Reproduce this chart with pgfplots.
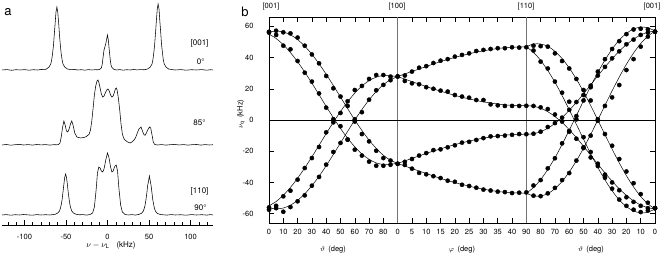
\documentclass[border=0pt]{standalone}
\usepackage{fontspec}
\setmainfont{TeX Gyre Heros}
\usepackage{pgfplots}
\usepackage{pgfplotstable}
\pgfplotsset{compat=1.18}

\pgfplotstableread{
x y
-127 186.0
-121 186.4
-115.5 185.7
-110 186.3
-105 186.0
-100 186.4
-94.5 185.8
-89 186.3
-84 186.0
-80 186.5
-75.5 186.4
-73.5 187
-70.4 189
-68.3 192
-67.2 196
-66.2 202
-65.1 210
-64.1 221
-63 233
-62 244
-60.9 249
-59.9 244
-58.8 233
-57.8 221
-56.7 210
-55.7 202
-54.6 196
-53.6 192
-51.5 189
-48.3 187
-44 186.3
-40 186.6
-35.7 186.0
-31.5 186.3
-27.3 185.8
-23 186.4
-19 186.0
-14.7 186.3
-11.5 186.2
-9.5 186.6
-7.4 188
-6.3 192
-5.3 199
-4.2 206
-3.2 209
-2.1 212
-1 217
0 221
1 216
2.1 206
3.2 197
4.2 191
5.3 188.5
7.4 186.8
10.5 186.0
14.7 186.4
19 185.8
23 186.3
27.3 186.0
31.5 186.5
35.7 186.1
40 186.4
44 186.2
48.3 187
51.5 189
53.6 192
54.6 196
55.7 203
56.7 211
57.8 223
58.8 235
59.9 247
60.9 252
62 247
63 235
64.1 223
65.1 211
66.2 203
67.2 196
68.3 192
70.4 189
73.5 187
77.7 186.4
82 186.0
88 186.4
94.5 185.8
101 186.3
107 186.0
113.5 186.4
119.5 185.8
124 186.3
127 186.0
}\spectop

\pgfplotstableread{
x y
-127 111.0
-122 111.5
-116.5 110.8
-111 111.3
-106 111.6
-101 111.0
-95.5 111.4
-90.3 110.9
-85 111.5
-80 111.1
-74.5 111.4
-69.3 110.9
-65 111.3
-61 111.2
-58.8 111.6
-57.2 113
-55.7 119
-54 129
-52.5 135
-51 131
-49.4 125
-47.8 124
-46.2 127
-44.6 132
-43 135
-41.5 131
-39.4 123
-36.8 119
-32.5 118
-28.4 118.5
-25.2 119.5
-22 122
-20.5 126
-18.9 135
-17.3 148
-15.8 161
-14.2 170
-12.6 175
-11.5 176
-10.5 174
-8.9 168
-7.4 162
-5.8 159
-4.2 160
-2.6 163
-1 166
0.5 167
2.1 165
3.7 161
5.3 159
6.8 160
8.4 164
9.5 167
10.5 168
11.5 166
13.1 158
14.7 146
16.3 132
17.9 122
19.4 118
21 116
24.2 114
27.3 113
29.4 114
31.5 115.5
33.6 118
35.7 122.5
37.8 127
40.4 129
42.5 124
44.1 121
45.7 121
47.8 125
50.4 129
52 128
53.6 121
55.1 114
56.7 111.6
60 111.0
65 111.4
70.4 110.9
75.6 111.3
81 111.6
86 111.0
91.4 111.4
96.6 110.9
102 111.3
107 111.5
112.4 110.9
117.6 111.4
122.8 111.0
127 111.3
}\specmid

\pgfplotstableread{
x y
-127 41.0
-122 41.4
-116.5 40.8
-111 41.3
-106 41.0
-101 41.5
-95.5 41.1
-90.3 40.8
-85 41.4
-80 41.0
-74.5 41.3
-69.3 41.0
-65 41.5
-63 41.7
-59.9 43
-57.8 44.9
-56.7 47.6
-55.7 51.3
-54.6 56.6
-53.6 63.8
-52.5 71.8
-51.5 78.7
-50.4 82
-49.4 78.7
-48.3 71.8
-47.3 63.8
-46.2 56.6
-45.2 51.3
-44.1 47.6
-43 45
-41 43
-37.8 41.7
-33.6 41.2
-29.4 41.4
-25.2 40.9
-21 41.5
-17.9 43
-15.8 49
-13.7 66
-12.1 83
-10.5 89
-8.9 88
-7.4 85
-5.8 84
-4.2 87
-2.1 96
0 103
1.6 99
3.7 89
5.3 84
6.8 85
8.9 90
10.5 91
12.1 85
13.7 68
15.8 51
17.9 44
21 41.5
25.2 41.0
29.4 41.4
33.6 40.9
37.8 41.6
41 42.7
43 44.7
44.1 47.2
45.2 50.8
46.2 55.8
47.3 62.6
48.3 70.3
49.4 74.9
50.4 80
51.5 74.9
52.5 70.3
53.6 62.6
54.6 55.8
55.7 50.8
56.7 47.2
57.8 44.7
59.9 42.7
63 41.6
67.2 41.2
71.4 40.9
76.7 41.4
82 41.0
88 41.3
94.5 40.8
101 41.4
107 41.0
113.4 41.3
119.7 40.9
124 41.4
127 41.0
}\specbot

\pgfplotstableread{
x A B nA nB
0 56.3 55.0 -56.3 -55.0
0.5 57.0 52.2 -57.0 -52.2
1 56.4 48.2 -56.4 -48.2
1.5 54.6 43.2 -54.6 -43.2
2 51.5 37.3 -51.5 -37.3
2.5 47.3 30.7 -47.3 -30.7
3 42.1 23.6 -42.1 -23.6
3.5 36.0 16.2 -36.0 -16.2
4 29.3 8.7 -29.3 -8.7
4.5 22.1 1.5 -22.1 -1.5
5 14.7 -5.4 -14.7 5.4
5.5 7.3 -11.7 -7.3 11.7
6 0.0 -17.2 0.0 17.2
6.5 -6.7 -21.8 6.7 21.8
7 -12.9 -25.2 12.9 25.2
7.5 -18.2 -27.5 18.2 27.5
8 -22.6 -28.5 22.6 28.5
8.5 -25.8 -28.3 25.8 28.3
9 -27.8 -27.8 27.8 27.8
}\soneline

\pgfplotstableread{
x A B nA nB
0 56.5 56.0 -57.5 -56.0
0.5 57.2 54.5 -56.5 -55.0
1 56.2 47.6 -58.8 -48.9
1.5 55.5 45.3 -55.8 -45.3
2 52.8 37.8 -52.1 -38.2
2.5 47.6 30.3 -48.3 -30.8
3 42.0 24.6 -42.1 -24.4
3.5 36.3 17.0 -36.5 -17.3
4 28.2 7.9 -28.6 -7.9
4.5 20.3 0.5 -20.5 -1.5
5 15.0 -4.0 -14.7 4.5
5.5 9.0 -12.5 -12.6 12.0
6 0.5 -19.0 -1.0 19.2
6.5 -9.0 -22.8 5.0 21.8
7 -13.7 -26.7 13.0 26.3
7.5 -19.7 -29.3 19.0 28.8
8 -24.4 -29.3 22.5 28.8
8.5 -26.0 -28.7 25.5 27.8
9 -28.0 -28.1 27.8 28.0
}\sonedots

\pgfplotstableread{
x R F nR nF
9 27.8 27.8 -27.8 -27.8
9.5 29.5 26.2 -29.5 -26.2
10 31.1 24.6 -31.1 -24.6
10.5 32.7 23.0 -32.7 -23.0
11 34.3 21.4 -34.3 -21.4
11.5 35.9 19.9 -35.9 -19.9
12 37.4 18.5 -37.4 -18.5
12.5 38.8 17.1 -38.8 -17.1
13 40.1 15.8 -40.1 -15.8
13.5 41.3 14.6 -41.3 -14.6
14 42.4 13.5 -42.4 -13.5
14.5 43.5 12.5 -43.5 -12.5
15 44.3 11.6 -44.3 -11.6
15.5 45.1 10.9 -45.1 -10.9
16 45.8 10.2 -45.8 -10.2
16.5 46.3 9.7 -46.3 -9.7
17 46.6 9.4 -46.6 -9.4
17.5 46.8 9.2 -46.8 -9.2
18 46.9 9.1 -46.9 -9.1
}\stwoline

\pgfplotstableread{
x R F nR nF
9.5 28.5 25.0 -28.8 -26.8
10 31.0 23.5 -31.2 -25.0
10.5 33.5 22.9 -33.9 -22.8
11 34.5 21.0 -34.8 -21.2
11.5 36.5 20.0 -36.0 -19.3
12 38.0 18.8 -37.2 -18.8
12.5 39.0 18.2 -38.9 -17.5
13 40.6 16.0 -39.6 -16.2
13.5 41.7 15.0 -41.5 -14.5
14 42.7 14.3 -42.3 -14.0
14.5 44.2 12.8 -43.4 -12.8
15 44.9 12.8 -44.6 -11.6
15.5 45.5 10.0 -45.2 -10.5
16 46.0 9.4 -45.9 -10.3
16.5 46.0 9.0 -46.2 -10.0
17 46.6 9.0 -46.8 -9.5
17.5 46.4 9.0 -46.6 -9.0
18 46.6 9.1 -46.4 -9.1
}\stwodots

\pgfplotstableread{
x C1 C2 D nC1 nC2 nD
18 46.9 46.9 9.1 -46.9 -46.9 -9.1
18.5 48.7 43.3 8.8 -48.7 -43.3 -8.8
19 48.7 38.2 7.5 -48.7 -38.2 -7.5
19.5 47.2 31.7 5.3 -47.2 -31.7 -5.3
20 44.0 24.2 2.2 -44.0 -24.2 -2.2
20.5 39.4 15.7 -1.6 -39.4 -15.7 1.6
21 33.3 6.6 -6.2 -33.3 -6.6 6.2
21.5 26.2 -2.8 -11.3 -26.2 2.8 11.3
22 18.1 -12.3 -16.8 -18.1 12.3 16.8
22.5 9.3 -21.6 -22.5 -9.3 21.6 22.5
23 0.0 -30.4 -28.3 0.0 30.4 28.3
23.5 -9.4 -38.4 -33.9 9.4 38.4 33.9
24 -18.7 -45.4 -39.2 18.7 45.4 39.2
24.5 -27.5 -51.2 -44.1 27.5 51.2 44.1
25 -35.7 -55.5 -48.3 35.7 55.5 48.3
25.5 -42.9 -58.3 -51.8 42.9 58.3 51.8
26 -49.0 -59.5 -54.5 49.0 59.5 54.5
26.5 -53.7 -59.1 -56.2 53.7 59.1 56.2
27 -57.0 -57.0 -57.0 57.0 57.0 57.0
}\sthreeline

\pgfplotstableread{
x C1 C2 D nC1 nC2 nD
18.5 47.6 44.5 9.0 -48.5 -42.0 -8.8
19 47.3 37.4 8.1 -48.8 -38.5 -7.5
19.5 47.0 33.0 7.0 -47.0 -31.0 -4.5
20 42.7 24.6 3.5 -43.5 -24.5 -2.0
20.5 37.8 17.5 -1.0 -38.5 -15.0 1.5
21 33.0 11.7 -7.0 -34.0 -7.5 6.5
21.5 26.3 0.4 -12.0 -26.0 2.5 11.5
22 19.2 -11.0 -18.0 -17.5 12.5 16.0
22.5 12.5 -20.5 -24.0 -10.0 21.0 22.0
23 0.5 -29.5 -28.0 -0.5 31.0 28.5
23.5 -9.0 -37.0 -35.0 9.0 39.0 34.0
24 -16.5 -44.0 -40.0 14.5 45.5 39.5
24.5 -25.0 -51.0 -45.0 22.4 50.5 44.0
25 -33.0 -55.0 -49.5 32.0 55.0 48.5
25.5 -40.5 -57.5 -52.5 39.0 58.0 51.5
26 -47.5 -59.0 -55.0 47.0 58.5 54.5
26.5 -53.0 -58.0 -56.5 53.4 58.0 56.0
27 -56.5 -56.5 -56.5 56.6 56.6 56.6
}\sthreedots

\begin{document}
\begin{tikzpicture}[x=1pt,y=1pt]
\path[use as bounding box] (0,0) rectangle (664,256);

% ---------------- panel a ----------------
\begin{axis}[
  at={(2pt,31pt)}, anchor=south west, scale only axis,
  width=211pt, height=225pt,
  xmin=-127, xmax=127, ymin=31, ymax=256,
  axis x line=bottom, hide y axis,
  x axis line style={-, line width=0.6pt},
  xtick={-100,-50,0,50,100},
  minor xtick={-120,-110,...,120},
  tick align=inside,
  major tick length=5pt, minor tick length=3pt,
  tick style={black, line width=0.5pt},
  /pgf/number format/assume math mode=true,
  xticklabel style={font=\fontsize{7.5}{8}\selectfont, yshift=-6pt},
  clip=false,
]
\addplot[black, line width=0.55pt] table[x=x,y=y] {\spectop};
\addplot[black, line width=0.55pt] table[x=x,y=y] {\specmid};
\addplot[black, line width=0.55pt] table[x=x,y=y] {\specbot};
\end{axis}

\begin{scope}[font=\fontsize{8}{9}\selectfont]
\node[anchor=east] at (212,213) {[001]};
\node[anchor=east] at (208,194) {0°};
\node[anchor=east] at (209,133) {85°};
\node[anchor=east] at (212,65) {[110]};
\node[anchor=east] at (210,48) {90°};
\node at (111,11) {$\nu - \nu_{\mathrm{L}}$\hspace{7pt}(kHz)};
\end{scope}
\node[font=\fontsize{13}{13}\selectfont] at (8,244) {a};

% ---------------- panel b ----------------
\begin{axis}[
  at={(269pt,33pt)}, anchor=south west, scale only axis,
  width=386pt, height=206pt,
  xmin=0, xmax=27, ymin=-66, ymax=66,
  xtick={0,1,...,27},
  xticklabels={0,10,20,30,40,50,60,70,80,0,5,10,15,20,25,30,35,40,90,80,70,60,50,40,30,20,10,0},
  ytick={-60,-40,-20,0,20,40,60},
  tick align=inside,
  xtick pos=both, ytick pos=both,
  xticklabel pos=lower, yticklabel pos=left,
  major tick length=5pt,
  tick style={black, line width=0.5pt},
  axis line style={line width=0.6pt},
  /pgf/number format/assume math mode=true,
  xticklabel style={font=\fontsize{7.5}{8}\selectfont, yshift=-3pt},
  yticklabel style={font=\fontsize{7.5}{8}\selectfont, xshift=-12pt},
]
\addplot[black!55, line width=0.6pt] coordinates {(9,-66) (9,66)};
\addplot[black!55, line width=0.6pt] coordinates {(18,-66) (18,66)};
\addplot[black, line width=0.9pt] coordinates {(0,0) (27,0)};

\pgfplotsset{crv/.style={black, line width=0.5pt, smooth}, dts/.style={only marks, mark=*, mark size=2.1pt, black}}
\addplot[crv] table[x=x,y=A] {\soneline};
\addplot[crv] table[x=x,y=B] {\soneline};
\addplot[crv] table[x=x,y=nA] {\soneline};
\addplot[crv] table[x=x,y=nB] {\soneline};
\addplot[dts] table[x=x,y=A] {\sonedots};
\addplot[dts] table[x=x,y=B] {\sonedots};
\addplot[dts] table[x=x,y=nA] {\sonedots};
\addplot[dts] table[x=x,y=nB] {\sonedots};

\addplot[crv] table[x=x,y=R] {\stwoline};
\addplot[crv] table[x=x,y=F] {\stwoline};
\addplot[crv] table[x=x,y=nR] {\stwoline};
\addplot[crv] table[x=x,y=nF] {\stwoline};
\addplot[dts] table[x=x,y=R] {\stwodots};
\addplot[dts] table[x=x,y=F] {\stwodots};
\addplot[dts] table[x=x,y=nR] {\stwodots};
\addplot[dts] table[x=x,y=nF] {\stwodots};

\addplot[crv] table[x=x,y=C1] {\sthreeline};
\addplot[crv] table[x=x,y=C2] {\sthreeline};
\addplot[crv] table[x=x,y=D] {\sthreeline};
\addplot[crv] table[x=x,y=nC1] {\sthreeline};
\addplot[crv] table[x=x,y=nC2] {\sthreeline};
\addplot[crv] table[x=x,y=nD] {\sthreeline};
\addplot[dts] table[x=x,y=C1] {\sthreedots};
\addplot[dts] table[x=x,y=C2] {\sthreedots};
\addplot[dts] table[x=x,y=D] {\sthreedots};
\addplot[dts] table[x=x,y=nC1] {\sthreedots};
\addplot[dts] table[x=x,y=nC2] {\sthreedots};
\addplot[dts] table[x=x,y=nD] {\sthreedots};
\end{axis}

\begin{scope}[font=\fontsize{7.5}{8}\selectfont]
\node at (271,249) {[001]};
\node at (397,249) {[100]};
\node at (526,249) {[110]};
\node at (652,249) {[001]};
\node at (333,6) {$\vartheta$\ \,(deg)};
\node at (462,6) {$\varphi$\ \,(deg)};
\node at (591,6) {$\vartheta$\ \,(deg)};
\node[rotate=90] at (241,142) {$\nu_{\mathrm{q}}$\ \,(kHz)};
\end{scope}
\node[font=\fontsize{13}{13}\selectfont] at (245,244) {b};
\end{tikzpicture}
\end{document}
